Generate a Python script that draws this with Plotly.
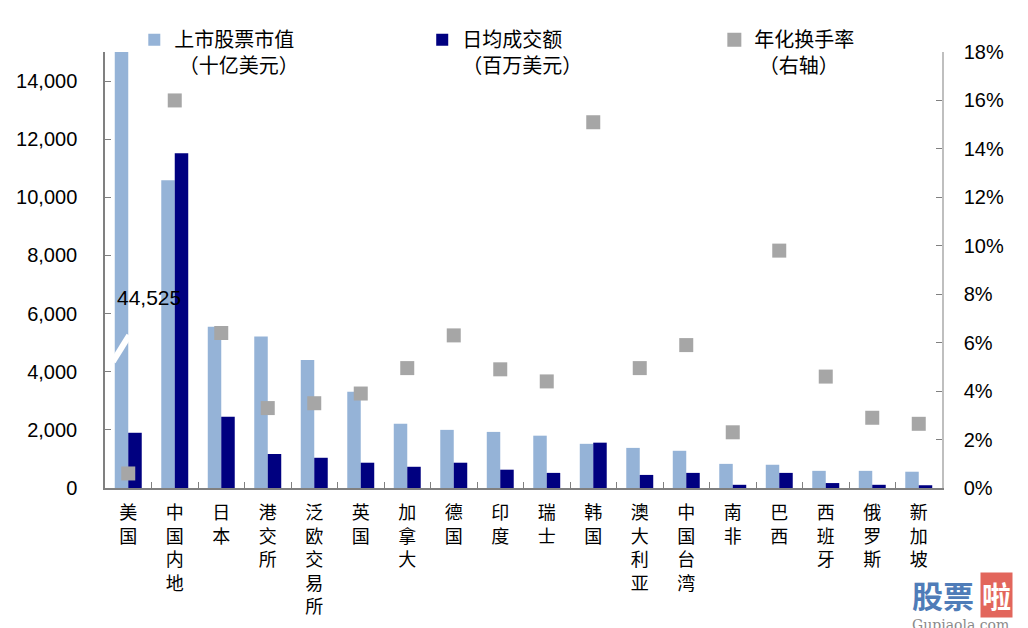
import plotly.graph_objects as go

# Market data
markets = ['美国', '中国内地', '日本', '港交所', '泛欧交易所', '英国', '加拿大', '德国', '印度',
           '瑞士', '韩国', '澳大利亚', '中国台湾', '南非', '巴西', '西班牙', '俄罗斯', '新加坡']
market_cap = [44525, 10590, 5550, 5210, 4400, 3310, 2210, 2000, 1930,
              1800, 1520, 1380, 1280, 830, 800, 590, 590, 560]
daily_turnover = [1900, 11520, 2450, 1170, 1040, 870, 730, 870, 630,
                  520, 1560, 450, 520, 110, 520, 170, 110, 95]
turnover_rate = [0.6, 16.0, 6.4, 3.3, 3.5, 3.9, 4.95, 6.3, 4.9,
                 4.4, 15.1, 4.95, 5.9, 2.3, 9.8, 4.6, 2.9, 2.65]

LIGHT = '#95B3D7'
NAVY = '#000080'
GREY = '#A6A6A6'
CJK = 'Noto Sans CJK SC'
NUM = 'Liberation Sans, Arial'

# stack the characters so the category labels read top-to-bottom
tick_text = ['<br>'.join(name) for name in markets]

fig = go.Figure()
fig.add_trace(go.Bar(
    x=markets, y=market_cap, name='上市股票市值<br> （十亿美元）', legend='legend',
    marker=dict(color=LIGHT, line=dict(width=0)),
))
fig.add_trace(go.Bar(
    x=markets, y=daily_turnover, name='日均成交额<br>（百万美元）', legend='legend2',
    marker=dict(color=NAVY, line=dict(width=0)),
))
fig.add_trace(go.Scatter(
    x=markets, y=turnover_rate, name='年化换手率<br> （右轴）', yaxis='y2', legend='legend3',
    mode='markers', marker=dict(symbol='square', size=14, color=GREY),
))

# broken-bar mark and true value for the US market cap
fig.add_shape(type='line', xref='x', yref='y', x0=-0.33, y0=4350, x1=0.02, y1=5250,
              line=dict(color='white', width=6), layer='above')
fig.add_annotation(x=markets[0], y=6550, xref='x', yref='y', text=f'{market_cap[0]:,}',
                   showarrow=False, xanchor='left', xshift=-13,
                   font=dict(family=NUM, size=21, color='black'))

# site watermark
fig.add_annotation(xref='paper', yref='paper', x=0.962, y=-0.245, xanchor='left', yanchor='middle',
                   text='<b><span style="color:#4F7CB8">股票</span></b>', showarrow=False,
                   font=dict(family=CJK, size=31))
fig.add_annotation(xref='paper', yref='paper', x=1.045, y=-0.245, xanchor='left', yanchor='middle',
                   text='<b>啦</b>', showarrow=False, bgcolor='#E2665C', borderpad=1,
                   font=dict(family=CJK, size=29, color='white'))
fig.add_annotation(xref='paper', yref='paper', x=0.962, y=-0.292, xanchor='left', yanchor='top',
                   text='Gupiaola.com', showarrow=False,
                   font=dict(family='DejaVu Serif', size=14, color='#8A8A8A'))

legend_style = dict(
    xanchor='left', yanchor='top', y=1.073, valign='top', itemwidth=30,
    font=dict(family=CJK, size=20, color='black'), bgcolor='rgba(0,0,0,0)',
)

# page body adds an 8px offset, so the figure is sized 8px smaller
fig.update_layout(
    width=1020, height=620,
    margin=dict(l=97, r=86, t=44, b=140, autoexpand=False),
    paper_bgcolor='white', plot_bgcolor='white',
    barmode='group', bargap=0.42, bargroupgap=0,
    font=dict(family=CJK, color='black'),
    showlegend=True,
    legend=dict(x=0.035, **legend_style),
    legend2=dict(x=0.379, **legend_style),
    legend3=dict(x=0.728, **legend_style),
    xaxis=dict(
        tickmode='array', tickvals=markets, ticktext=tick_text, automargin=False,
        range=[-0.5, len(markets) - 0.5],
        showline=True, linecolor='#808080', linewidth=1.5,
        ticks='inside', tickson='boundaries', ticklen=6, tickcolor='#808080',
        tickfont=dict(family=CJK, size=18), tickangle=0, ticklabelstandoff=8,
        showgrid=False, zeroline=False,
    ),
    yaxis=dict(
        range=[0, 15000], tickvals=[0, 2000, 4000, 6000, 8000, 10000, 12000, 14000],
        tickformat=',d', showline=True, linecolor='#808080', linewidth=1.5,
        ticks='inside', ticklen=6, tickcolor='#808080', automargin=False,
        tickfont=dict(family=NUM, size=20), ticklabelstandoff=22,
        showgrid=False, zeroline=False,
    ),
    yaxis2=dict(
        range=[0, 18], dtick=2, ticksuffix='%', overlaying='y', side='right',
        showline=True, linecolor='#BFBFBF', linewidth=1.5, automargin=False,
        ticks='inside', ticklen=6, tickcolor='#808080',
        tickfont=dict(family=NUM, size=20), ticklabelstandoff=16,
        showgrid=False, zeroline=False,
    ),
)

fig.write_html('out.html', config={'responsive': False})
